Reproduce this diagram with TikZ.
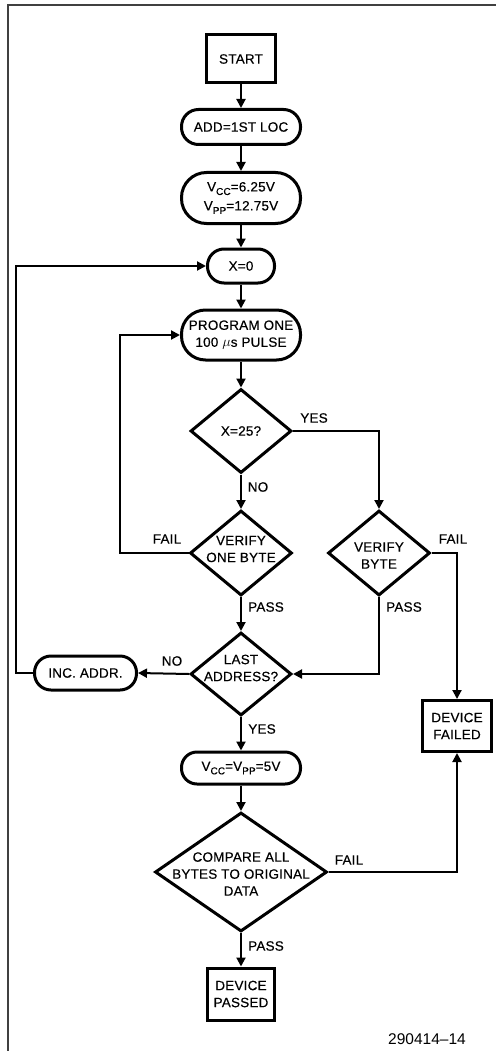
\documentclass[tikz,border=0pt]{standalone}
\usepackage{fontspec}
\setmainfont{Liberation Sans}
\newfontfamily\dfont{Liberation Sans}[LetterSpace=1.5, FakeBold=0.35]
\usetikzlibrary{shapes.geometric,arrows.meta}
\newcommand{\subx}[1]{\raisebox{-3.5pt}{\fontsize{10}{10}\selectfont #1}}
\begin{document}
\begin{tikzpicture}[x=1pt,y=-1pt,
  every node/.style={font=\dfont\fontsize{13.5}{17}\selectfont, align=center, inner sep=0pt},
  boxnode/.style={draw, line width=3pt, rectangle},
  termnode/.style={draw, line width=3pt, rectangle},
  dianode/.style={draw, line width=3pt, diamond, inner sep=0pt},
  txt/.style={},
  lbl/.style={},
  arr/.style={line width=2pt, -{Triangle[length=9pt,width=9pt]}},
  ln/.style={line width=2pt}
]
\useasboundingbox (0,0) rectangle (496,1051);
\draw[line width=1.4pt, black!75] (8,1051) -- (8,5) -- (496,5);

\node[boxnode, minimum width=69pt, minimum height=48pt] (start) at (241,59) {START};
\node[termnode, rounded corners=17pt, minimum width=119pt, minimum height=35pt] (add) at (241,127) {ADD=1ST LOC};
\node[termnode, rounded corners=25pt, minimum width=119pt, minimum height=51pt] (vcc) at (241,198) {V\subx{CC}=6.25V\\[2pt]V\subx{PP}=12.75V};
\node[termnode, rounded corners=16.5pt, minimum width=67pt, minimum height=34pt] (x0) at (241,266) {X=0};
\node[termnode, rounded corners=24pt, minimum width=119pt, minimum height=50pt] (prog) at (241,335) {PROGRAM ONE\\100 $\mu$s PULSE};

\node[dianode, minimum width=101pt, minimum height=84pt] (x25) at (241,431) {};
\node[txt] (x25t) at (x25.center) {X=25?};
\node[dianode, minimum width=102pt, minimum height=85pt] (v1) at (241,553) {};
\node[txt] (v1t) at ([yshift=4pt]v1.center) {VERIFY\\ONE BYTE};
\node[dianode, minimum width=102pt, minimum height=85pt] (vb) at (379,553) {};
\node[txt] (vbt) at ([yshift=-2.5pt]vb.center) {VERIFY\\BYTE};
\node[dianode, minimum width=101pt, minimum height=83pt] (last) at (241,674) {};
\node[txt] (lastt) at ([yshift=6pt]last.center) {LAST\\ADDRESS?};
\node[termnode, rounded corners=16.5pt, minimum width=102pt, minimum height=34pt] (inc) at (85.5,673) {INC. ADDR.};
\node[boxnode, minimum width=69pt, minimum height=51pt] (fail) at (457,726) {DEVICE\\FAILED};
\node[termnode, rounded corners=15.5pt, minimum width=119pt, minimum height=32pt] (v5) at (241,768) {V\subx{CC}=V\subx{PP}=5V};
\node[dianode, minimum width=172pt, minimum height=119pt] (cmp) at (241,872) {};
\node[txt] (cmpt) at ([yshift=-2pt]cmp.center) {COMPARE ALL\\BYTES TO ORIGINAL\\DATA};
\node[boxnode, minimum width=67pt, minimum height=52pt] (pass) at (241,994) {DEVICE\\PASSED};

\coordinate (lp1) at (120,553);
\coordinate (lp2) at (16,673);

\draw[arr] (start) -- (add);
\draw[arr] (add) -- (vcc);
\draw[arr] (vcc) -- (x0);
\draw[arr] (x0) -- (prog);
\draw[arr] (prog) -- (x25);
\draw[arr] (x25.south) -- (v1.north);
\draw[arr] (x25.east) -| (vb.north);
\draw[arr] (v1.west) -- (lp1) |- (prog.west);
\draw[arr] (v1.south) -- (last.north);
\draw[arr] (vb.south) |- (last.east);
\draw[arr] (vb.east) -| (fail.north);
\draw[arr] (last.west) -- (inc.east);
\draw[arr] (inc.west) -- (lp2) |- (x0.west);
\draw[arr] (last.south) -- (v5.north);
\draw[arr] (v5.south) -- (cmp.north);
\draw[arr] (cmp.south) -- (pass.north);
\draw[arr] (cmp.east) -| (fail.south);

\node[lbl] (l1) at (314,418) {YES};
\node[lbl] (l2) at (258,487) {NO};
\node[lbl] (l3) at (167,539) {FAIL};
\node[lbl] (l4) at (453,539) {FAIL};
\node[lbl] (l5) at (266,607) {PASS};
\node[lbl] (l6) at (404,607) {PASS};
\node[lbl] (l7) at (172,661) {NO};
\node[lbl] (l8) at (262,729) {YES};
\node[lbl] (l9) at (349,860) {FAIL};
\node[lbl] (l10) at (266,946) {PASS};
\node[font=\fontsize{15.5}{18}\selectfont] (fig) at (427,1039) {290414--14};
\end{tikzpicture}
\end{document}
